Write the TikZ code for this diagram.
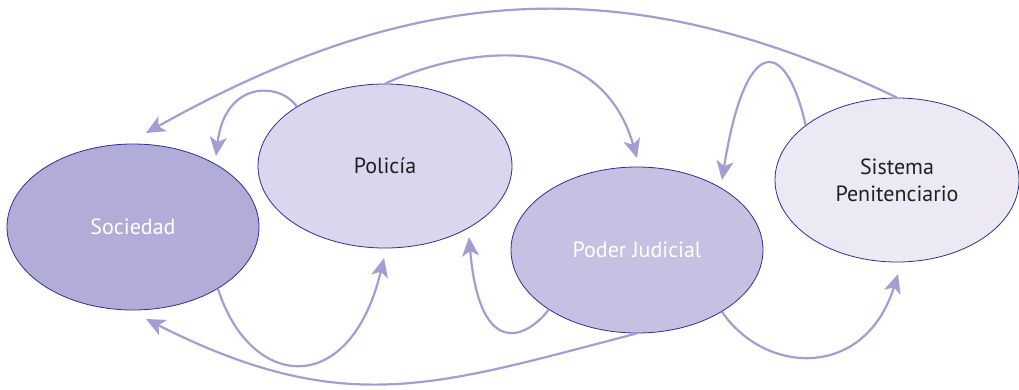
\documentclass[tikz,border=0pt]{standalone}
\usepackage{fontspec}
\setmainfont{PT Sans}
\usetikzlibrary{shapes.geometric,arrows.meta}
\definecolor{arr}{HTML}{A39DD3}
\definecolor{edge}{HTML}{2E3192}
\definecolor{fsoc}{HTML}{B1ACD8}
\definecolor{fpol}{HTML}{DBD5EE}
\definecolor{fpj}{HTML}{C6C0E3}
\definecolor{fsis}{HTML}{ECE9F5}
\definecolor{dtext}{HTML}{231F20}
\tikzset{
  blob/.style={ellipse, draw=edge, line width=0.8pt, inner sep=0pt, font=\fontsize{22}{27}\selectfont, align=center},
  flow/.style={draw=arr, line width=2.2pt, -{Stealth[length=19pt,width=17pt,inset=5pt]}}
}
\begin{document}
\begin{tikzpicture}[x=1pt,y=-1pt]
\useasboundingbox (0,0) rectangle (1019,389);
\node[blob, fill=fsoc, text=white, minimum width=252pt, minimum height=166pt] (soc) at (133,227) {Sociedad};
\node[blob, fill=fpol, text=dtext, minimum width=254pt, minimum height=164pt] (pol) at (385,166) {Policía};
\node[blob, fill=fpj, text=white, minimum width=252pt, minimum height=166pt] (pj) at (637,250) {Poder Judicial};
\node[blob, fill=fsis, text=dtext, minimum width=244pt, minimum height=164pt] (sis) at (897,180) {Sistema\\Penitenciario};
\coordinate (t1) at (146,133);
\coordinate (t2) at (216,156);
\coordinate (t3) at (637,158);
\coordinate (t4) at (722,180);
\coordinate (t5) at (384,258);
\coordinate (t6) at (469,237);
\coordinate (t7) at (146,319);
\coordinate (t8) at (898,274);
\draw[flow] (sis.90) .. controls (627,-32) and (416,-18) .. (t1);
\draw[flow] (pol.146) .. controls (280,82) and (225,80) .. (t2);
\draw[flow] (pol.90) .. controls (470,45) and (600,30) .. (t3);
\draw[flow] (sis.149) .. controls (785,35) and (745,35) .. (t4);
\draw[flow] (soc.-36) .. controls (250,390) and (350,400) .. (t5);
\draw[flow] (pj.-146) .. controls (530,335) and (480,365) .. (t6);
\draw[flow] (pj.-90) .. controls (437,385) and (346,420) .. (t7);
\draw[flow] (pj.-36) .. controls (765,375) and (865,380) .. (t8);
\end{tikzpicture}
\end{document}
